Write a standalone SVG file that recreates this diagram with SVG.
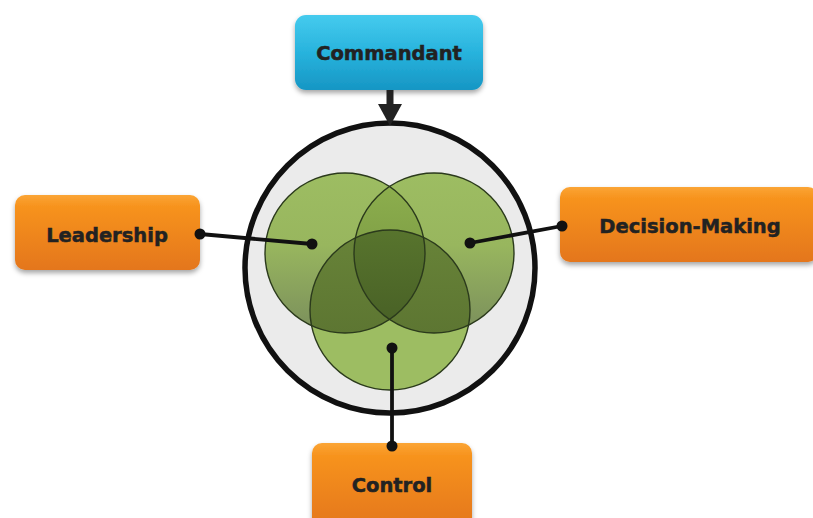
<svg xmlns="http://www.w3.org/2000/svg" width="813" height="518" viewBox="0 0 813 518">
<style>
.lbl{font-family:"DejaVu Sans",Verdana,sans-serif;font-weight:bold;font-size:19.5px;fill:#222;text-anchor:middle;stroke:#222;stroke-width:0.5}
.conn{stroke:#111;stroke-width:3.8;fill:none}
.dot{fill:#111}
.ring{fill:none;stroke:#2b3a1c;stroke-width:1.4}
</style>
<defs>
<linearGradient id="gBlue" x1="0" y1="0" x2="0" y2="1">
<stop offset="0" stop-color="#45cbee"/><stop offset="0.5" stop-color="#28b3dd"/><stop offset="1" stop-color="#1696c4"/>
</linearGradient>
<linearGradient id="gOr" x1="0" y1="0" x2="0" y2="1">
<stop offset="0" stop-color="#fba535"/><stop offset="0.15" stop-color="#f7931e"/><stop offset="1" stop-color="#e4761b"/>
</linearGradient>
<linearGradient id="gSide" x1="0" y1="0" x2="0" y2="1">
<stop offset="0" stop-color="#9dbd62"/><stop offset="0.45" stop-color="#98b65e"/><stop offset="1" stop-color="#7a8e5c"/>
</linearGradient>
<linearGradient id="gLens" x1="0" y1="0" x2="0" y2="1">
<stop offset="0" stop-color="#8fb14f"/><stop offset="1" stop-color="#6f8d3c"/>
</linearGradient>
<linearGradient id="gPair" x1="0" y1="0" x2="0" y2="1">
<stop offset="0" stop-color="#6e8b3c"/><stop offset="1" stop-color="#5d7632"/>
</linearGradient>
<linearGradient id="gTri" x1="0" y1="0" x2="0" y2="1">
<stop offset="0" stop-color="#618032"/><stop offset="1" stop-color="#475f25"/>
</linearGradient>
<clipPath id="cL"><circle cx="345" cy="253" r="80"/></clipPath>
<clipPath id="cR"><circle cx="434" cy="253" r="80"/></clipPath>
<clipPath id="cB"><circle cx="390" cy="310" r="80"/></clipPath>
<filter id="sh" x="-10%" y="-10%" width="120%" height="140%">
<feDropShadow dx="0" dy="3" stdDeviation="2.5" flood-color="#000" flood-opacity="0.35"/>
</filter>
</defs>

<g id="venn">
<circle cx="390" cy="268" r="145" fill="#ebebeb" stroke="#111" stroke-width="5.5"/>
<circle cx="345" cy="253" r="80" fill="url(#gSide)"/>
<circle cx="434" cy="253" r="80" fill="url(#gSide)"/>
<circle cx="434" cy="253" r="80" fill="url(#gLens)" clip-path="url(#cL)"/>
<circle cx="390" cy="310" r="80" fill="#9dbd62"/>
<circle cx="345" cy="253" r="80" fill="url(#gPair)" clip-path="url(#cB)"/>
<circle cx="434" cy="253" r="80" fill="url(#gPair)" clip-path="url(#cB)"/>
<g clip-path="url(#cL)"><circle cx="434" cy="253" r="80" fill="url(#gTri)" clip-path="url(#cB)"/></g>
<circle class="ring" cx="345" cy="253" r="80"/>
<circle class="ring" cx="434" cy="253" r="80"/>
<circle class="ring" cx="390" cy="310" r="80"/>
</g>

<g id="commandant">
<rect x="295" y="15" width="188" height="75" rx="11" fill="url(#gBlue)" filter="url(#sh)"/>
<text class="lbl" x="389" y="60" font-size="20.5">Commandant</text>
</g>
<g id="leadership">
<rect x="15" y="195" width="185" height="75" rx="10" fill="url(#gOr)" filter="url(#sh)"/>
<text class="lbl" x="107" y="242">Leadership</text>
</g>
<g id="decision">
<rect x="560" y="187" width="258" height="75" rx="10" fill="url(#gOr)" filter="url(#sh)"/>
<text class="lbl" x="690" y="233">Decision-Making</text>
</g>
<g id="control">
<rect x="312" y="443" width="160" height="85" rx="10" fill="url(#gOr)" filter="url(#sh)"/>
<text class="lbl" x="392" y="492">Control</text>
</g>

<g id="connectors">
<line x1="390" y1="90" x2="390" y2="106" stroke="#222" stroke-width="7"/>
<polygon points="378,104 402,104 390,126" fill="#222"/>
<line class="conn" x1="200" y1="234" x2="312" y2="244"/>
<circle class="dot" cx="200" cy="234" r="5.5"/>
<circle class="dot" cx="312" cy="244" r="5.5"/>
<line class="conn" x1="470" y1="243" x2="562" y2="226"/>
<circle class="dot" cx="470" cy="243" r="5.5"/>
<circle class="dot" cx="562" cy="226" r="5.5"/>
<line class="conn" x1="392" y1="348" x2="392" y2="446"/>
<circle class="dot" cx="392" cy="348" r="5.5"/>
<circle class="dot" cx="392" cy="446" r="5.5"/>
</g>
</svg>
